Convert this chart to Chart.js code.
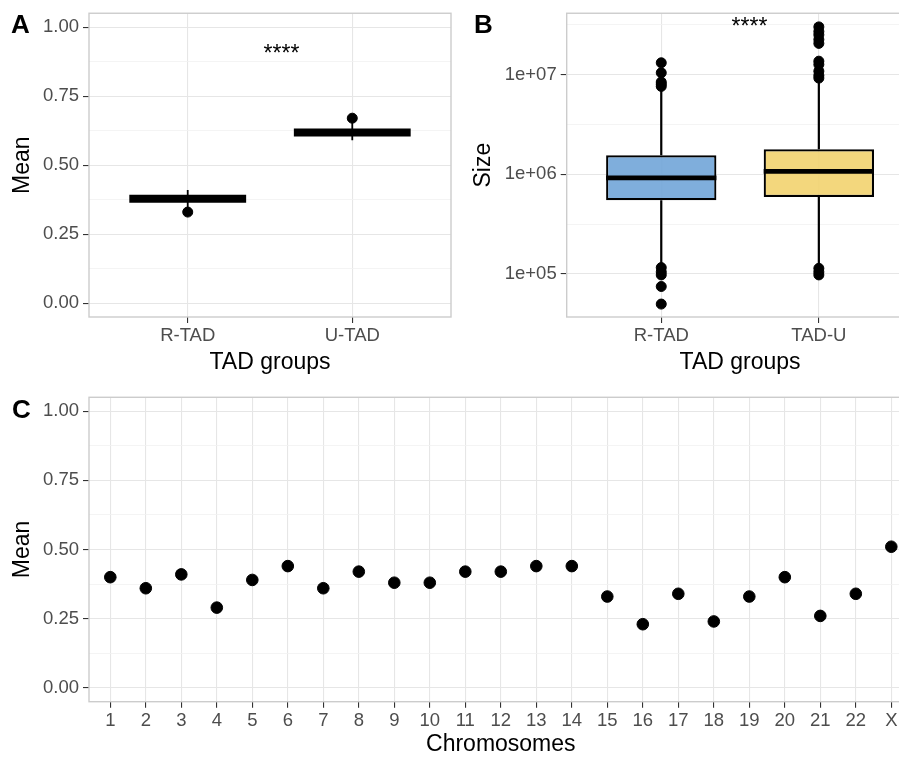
<!DOCTYPE html>
<html><head><meta charset="utf-8">
<script src="https://cdn.jsdelivr.net/npm/chart.js@4.4.1/dist/chart.umd.min.js"></script>
<style>
html,body{margin:0;padding:0;width:899px;height:758px;overflow:hidden;background:#fff;}
canvas{position:absolute;}
.lbl{position:absolute;font:bold 26px 'Liberation Sans',Arial,sans-serif;line-height:26px;color:#000;}
</style></head><body>
<canvas id="cA" width="460" height="380" style="left:0;top:0"></canvas>
<canvas id="cB" width="470" height="380" style="left:460px;top:0"></canvas>
<canvas id="cC" width="930" height="378" style="left:0;top:380px"></canvas>
<div class="lbl" style="left:11px;top:11px">A</div>
<div class="lbl" style="left:474px;top:11px">B</div>
<div class="lbl" style="left:12px;top:396px">C</div>
<script>
// ---------- DATA ----------
// Panel A
const groupsA = ['R-TAD', 'U-TAD'];
const crossbarMeanA = [0.378, 0.618];
const errLowA = [0.33, 0.59];
const errHighA = [0.41, 0.67];
const pointA = [0.33, 0.67];
const sigPosA = [1.57, 0.877];

// Panel B (box plots, log scale)
const groupsB = ['R-TAD', 'TAD-U'];
const q1B = [5.5e5, 5.93e5];
const medianB = [9.2e5, 1.07e6];
const q3B = [1.55e6, 1.78e6];
const whiskerLowB = [1.25e5, 1.25e5];
const whiskerHighB = [7.2e6, 8.4e6];
const outliersRTAD = [1.31e7, 1.04e7, 8.4e6, 8.0e6, 7.6e6, 1.16e5, 1.05e5, 9.8e4, 7.5e4, 5.0e4];
const outliersTADU = [3.0e7, 2.7e7, 2.5e7, 2.24e7, 2.05e7, 1.36e7, 1.26e7, 1.08e7, 9.8e6, 9.2e6, 1.14e5, 1.05e5, 9.8e4];
const sigPosB = [1.56, 2.56e7];

// Panel C
const chromosomes = ['1','2','3','4','5','6','7','8','9','10','11','12','13','14','15','16','17','18','19','20','21','22','X'];
const chromMeans = [0.40, 0.36, 0.41, 0.29, 0.39, 0.44, 0.36, 0.42, 0.38, 0.38, 0.42, 0.42, 0.44, 0.44, 0.33, 0.23, 0.34, 0.24, 0.33, 0.40, 0.26, 0.34, 0.51];

// Tick labels
const yTickValues = [0, 0.25, 0.5, 0.75, 1];
const yTickLabels = ['0.00', '0.25', '0.50', '0.75', '1.00'];
const yMinorValues = [0.125, 0.375, 0.625, 0.875];
const logTickValues = [1e5, 1e6, 1e7];
const logTickLabels = ['1e+05', '1e+06', '1e+07'];
const logMinorValues = [Math.pow(10, 5.5), Math.pow(10, 6.5), Math.pow(10, 7.5)];

// ---------- STYLE ----------
const FONT = "'Liberation Sans', Arial, sans-serif";
Chart.defaults.font.family = FONT;
Chart.defaults.color = '#4D4D4D';
const MAJOR_GRID = '#E6E6E6', MINOR_GRID = '#F1F1F1', BORDER = '#CCCCCC', TICK = '#333333';
const TICK_FONT = {size: 18.5, lineHeight: 1};
const TITLE_FONT = {size: 23, lineHeight: 1};

function buildTicks(values, labels, minors) {
  const t = values.map((v, i) => ({value: v, lbl: labels[i], minor: false}));
  (minors || []).forEach(v => t.push({value: v, lbl: '', minor: true}));
  return t.sort((a, b) => a.value - b.value);
}
function gridCfg() {
  return {
    color: c => (c.tick && c.tick.minor) ? MINOR_GRID : MAJOR_GRID,
    lineWidth: c => (c.tick && c.tick.minor) ? 0.8 : 1.1,
    tickColor: c => (c.tick && c.tick.minor) ? 'rgba(0,0,0,0)' : TICK,
    tickWidth: 1.1,
    tickLength: 6,
    offset: false
  };
}
function xCat(min, max, labels, height, titleText, titlePadBottom) {
  return {
    type: 'linear', min: min, max: max, bounds: 'data', offset: false,
    afterBuildTicks: s => { s.ticks = buildTicks(labels.map((_, i) => i + 1), labels); },
    afterFit: s => { s.height = height; },
    ticks: {callback: (v, i, t) => t[i].lbl, font: TICK_FONT, color: '#4D4D4D', padding: 4, autoSkip: false, maxRotation: 0},
    grid: gridCfg(),
    border: {display: false},
    title: {display: true, text: titleText, color: '#000', font: TITLE_FONT, padding: {top: 0, bottom: titlePadBottom}}
  };
}
function yMean(width) {
  return {
    type: 'linear', min: -0.05, max: 1.05, bounds: 'data',
    afterBuildTicks: s => { s.ticks = buildTicks(yTickValues, yTickLabels, yMinorValues); },
    afterFit: s => { s.width = width; },
    ticks: {callback: (v, i, t) => t[i].lbl, font: TICK_FONT, color: '#4D4D4D', padding: 4, autoSkip: false},
    grid: gridCfg(),
    border: {display: false},
    title: {display: true, text: 'Mean', color: '#000', font: TITLE_FONT, padding: {top: 11, bottom: 0}}
  };
}

const panelBorder = {
  id: 'panelBorder',
  afterDatasetsDraw(chart) {
    const {ctx, chartArea: a} = chart;
    ctx.save();
    ctx.strokeStyle = BORDER; ctx.lineWidth = 1.4;
    ctx.strokeRect(a.left, a.top, a.right - a.left, a.bottom - a.top);
    ctx.restore();
  }
};
const sigText = {
  id: 'sigText',
  afterDatasetsDraw(chart, args, opts) {
    if (!opts || !opts.pos) return;
    const {ctx, scales} = chart;
    ctx.save();
    ctx.font = '23px ' + FONT;
    ctx.fillStyle = '#000';
    ctx.textAlign = 'center';
    ctx.textBaseline = 'alphabetic';
    ctx.fillText(opts.text, scales.x.getPixelForValue(opts.pos[0]), scales.y.getPixelForValue(opts.pos[1]));
    ctx.restore();
  }
};
const baseOpts = {
  responsive: false, animation: false, events: [],
  plugins: {legend: {display: false}, tooltip: {enabled: false}}
};
function seg(data, width, order, cap) {
  return {type: 'line', data: data, borderColor: '#000', borderWidth: width, pointRadius: 0,
          showLine: true, fill: false, order: order, borderCapStyle: cap || 'butt', tension: 0};
}

// ---------- PANEL A ----------
const HALF_A = 0.355;
const dsA = [];
groupsA.forEach((g, i) => {
  dsA.push(seg([{x: i + 1, y: errLowA[i]}, {x: i + 1, y: errHighA[i]}], 1.8, 3));
  dsA.push(seg([{x: i + 1 - HALF_A, y: crossbarMeanA[i]}, {x: i + 1 + HALF_A, y: crossbarMeanA[i]}], 8, 2));
});
dsA.push({type: 'scatter', data: groupsA.map((g, i) => ({x: i + 1, y: pointA[i]})),
  backgroundColor: '#000', borderColor: '#000', pointRadius: 5, order: 1});

new Chart(document.getElementById('cA'), {
  type: 'scatter',
  data: {datasets: dsA},
  options: Object.assign({}, baseOpts, {
    layout: {padding: {left: 0, top: 13, right: 9, bottom: 0}},
    scales: {x: xCat(0.4, 2.6, groupsA, 63, 'TAD groups', 6), y: yMean(89)},
    plugins: Object.assign({}, baseOpts.plugins, {sigText: {pos: sigPosA, text: '****'}})
  }),
  plugins: [panelBorder, sigText]
});

// ---------- PANEL B ----------
const HALF_B = 0.35;
const dsB = [];
groupsB.forEach((g, i) => {
  dsB.push(seg([{x: i + 1, y: whiskerLowB[i]}, {x: i + 1, y: q1B[i]}], 2.2, 4));
  dsB.push(seg([{x: i + 1, y: q3B[i]}, {x: i + 1, y: whiskerHighB[i]}], 2.2, 4));
  dsB.push(seg([{x: i + 1 - HALF_B, y: medianB[i]}, {x: i + 1 + HALF_B, y: medianB[i]}], 4.6, 2));
});
dsB.push({type: 'bar', data: groupsB.map((g, i) => ({x: i + 1, y: [q1B[i], q3B[i]]})),
  backgroundColor: ['rgba(116,167,217,0.92)', 'rgba(242,212,114,0.92)'],
  borderColor: '#000', borderWidth: 2.2, borderSkipped: false,
  barPercentage: 0.7, categoryPercentage: 1, order: 3});
const outB = [];
outliersRTAD.forEach(v => outB.push({x: 1, y: v}));
outliersTADU.forEach(v => outB.push({x: 2, y: v}));
dsB.push({type: 'scatter', data: outB, backgroundColor: '#000', borderColor: '#000', pointRadius: 5, order: 1});

new Chart(document.getElementById('cB'), {
  type: 'bar',
  data: {datasets: dsB},
  options: Object.assign({}, baseOpts, {
    layout: {padding: {left: 0, top: 13, right: 16.6, bottom: 0}},
    scales: {
      x: Object.assign(xCat(0.4, 2.6, groupsB, 63, 'TAD groups', 6), {grid: gridCfg()}),
      y: {
        type: 'logarithmic', min: 3.71e4, max: 4.11e7, bounds: 'data',
        afterBuildTicks: s => { s.ticks = buildTicks(logTickValues, logTickLabels, logMinorValues); },
        afterFit: s => { s.width = 106.7; },
        ticks: {callback: (v, i, t) => t[i].lbl, font: TICK_FONT, color: '#4D4D4D', padding: 4, autoSkip: false},
        grid: gridCfg(),
        border: {display: false},
        title: {display: true, text: 'Size', color: '#000', font: TITLE_FONT, padding: {top: 11.8, bottom: 0}}
      }
    },
    plugins: Object.assign({}, baseOpts.plugins, {sigText: {pos: sigPosB, text: '****'}})
  }),
  plugins: [panelBorder, sigText]
});

// ---------- PANEL C ----------
new Chart(document.getElementById('cC'), {
  type: 'scatter',
  data: {datasets: [{
    data: chromosomes.map((c, i) => ({x: i + 1, y: chromMeans[i]})),
    backgroundColor: '#000', borderColor: '#000', pointRadius: 5.8
  }]},
  options: Object.assign({}, baseOpts, {
    layout: {padding: {left: 0, top: 17.3, right: 17.4, bottom: 0}},
    scales: {x: xCat(0.4, 23.6, chromosomes, 56.3, 'Chromosomes', 1.5), y: yMean(89)}
  }),
  plugins: [panelBorder]
});
</script>
</body></html>
